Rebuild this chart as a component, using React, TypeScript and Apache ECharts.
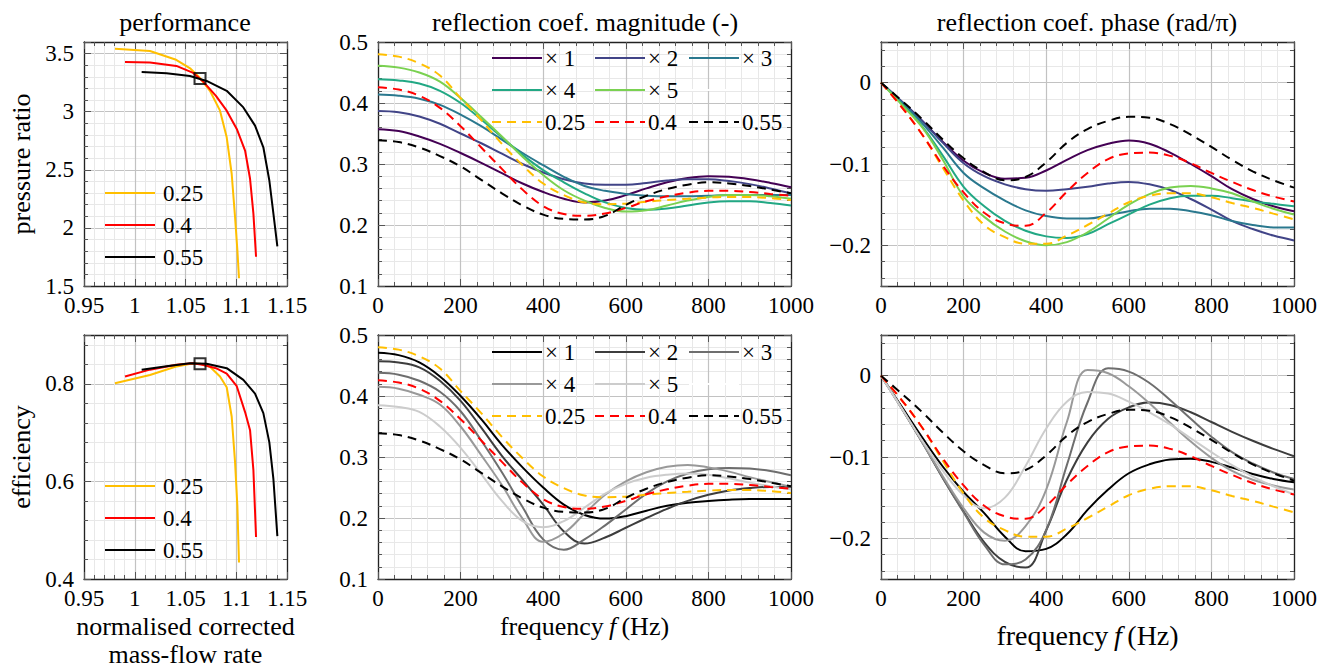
import React, { useEffect, useRef } from 'react';
import * as echarts from 'echarts';

// ---------------- data ----------------
const freq = [0, 50, 100, 150, 200, 250, 300, 350, 400, 450, 500, 550, 600, 650, 700, 750, 800, 850, 900, 950, 1000];

// compressor map (left column)
const mfr025 = [0.9805, 1.015, 1.04, 1.055, 1.0643, 1.0741, 1.084, 1.0906, 1.0955, 1.0988, 1.1011, 1.1027];
const pr025 = [3.542, 3.522, 3.45, 3.37, 3.29, 3.18, 3.009, 2.78, 2.466, 2.095, 1.81, 1.567];
const eff025 = [0.801, 0.818, 0.835, 0.841, 0.841, 0.835, 0.815, 0.793, 0.733, 0.64, 0.55, 0.434];

const mfr04 = [0.9904, 1.015, 1.041, 1.057, 1.0668, 1.08, 1.0906, 1.1005, 1.1087, 1.1136, 1.1169, 1.1195];
const pr04 = [3.428, 3.423, 3.394, 3.337, 3.265, 3.137, 3.009, 2.852, 2.666, 2.423, 2.123, 1.752];
const eff04 = [0.815, 0.829, 0.839, 0.842, 0.839, 0.832, 0.821, 0.795, 0.742, 0.705, 0.623, 0.486];

const mfr055 = [1.0068, 1.0313, 1.0544, 1.0708, 1.0906, 1.107, 1.1185, 1.1267, 1.1326, 1.1366, 1.1405];
const pr055 = [3.342, 3.331, 3.308, 3.265, 3.18, 3.037, 2.88, 2.694, 2.408, 2.123, 1.842];
const eff055 = [0.829, 0.836, 0.842, 0.841, 0.832, 0.808, 0.78, 0.74, 0.68, 0.605, 0.488];

const designMfr = [1.0643];
const designPr = [3.285];
const designEff = [0.841];

// reflection magnitude, dashed reference curves
const mag025 = [0.48, 0.476, 0.465, 0.445, 0.408, 0.372, 0.333, 0.298, 0.268, 0.249, 0.237, 0.234, 0.235, 0.238, 0.241, 0.243, 0.245, 0.246, 0.246, 0.244, 0.241];
const mag04 = [0.426, 0.422, 0.412, 0.392, 0.362, 0.327, 0.292, 0.258, 0.231, 0.218, 0.215, 0.219, 0.228, 0.239, 0.247, 0.253, 0.256, 0.256, 0.254, 0.251, 0.248];
const mag055 = [0.339, 0.336, 0.327, 0.313, 0.296, 0.274, 0.252, 0.232, 0.217, 0.21, 0.209, 0.215, 0.233, 0.248, 0.259, 0.266, 0.27, 0.268, 0.264, 0.258, 0.252];

// reflection magnitude, top row (× n)
const magTop1 = [0.357, 0.354, 0.345, 0.333, 0.318, 0.302, 0.285, 0.268, 0.254, 0.243, 0.237, 0.24, 0.249, 0.26, 0.27, 0.277, 0.28, 0.279, 0.275, 0.269, 0.262];
const magTop2 = [0.387, 0.385, 0.378, 0.366, 0.35, 0.334, 0.317, 0.3, 0.286, 0.275, 0.268, 0.266, 0.266, 0.269, 0.273, 0.275, 0.275, 0.272, 0.267, 0.26, 0.252];
const magTop3 = [0.414, 0.412, 0.407, 0.397, 0.381, 0.362, 0.34, 0.318, 0.298, 0.279, 0.264, 0.256, 0.251, 0.248, 0.247, 0.247, 0.248, 0.249, 0.249, 0.249, 0.249];
const magTop4 = [0.439, 0.437, 0.432, 0.42, 0.4, 0.373, 0.344, 0.315, 0.29, 0.27, 0.252, 0.237, 0.228, 0.225, 0.227, 0.232, 0.237, 0.239, 0.239, 0.236, 0.232];
const magTop5 = [0.461, 0.458, 0.45, 0.435, 0.408, 0.377, 0.345, 0.312, 0.282, 0.257, 0.24, 0.228, 0.222, 0.224, 0.232, 0.24, 0.246, 0.249, 0.249, 0.247, 0.243];

// reflection magnitude, bottom row (× n)
const magBot1 = [0.471, 0.467, 0.455, 0.432, 0.4, 0.362, 0.32, 0.283, 0.25, 0.222, 0.205, 0.199, 0.203, 0.212, 0.22, 0.225, 0.228, 0.23, 0.231, 0.231, 0.231];
const magBot2 = [0.457, 0.455, 0.447, 0.425, 0.392, 0.348, 0.302, 0.262, 0.222, 0.178, 0.158, 0.168, 0.184, 0.2, 0.215, 0.228, 0.238, 0.245, 0.249, 0.251, 0.251];
const magBot3 = [0.438, 0.435, 0.425, 0.407, 0.375, 0.327, 0.275, 0.218, 0.165, 0.148, 0.165, 0.188, 0.214, 0.24, 0.26, 0.273, 0.28, 0.282, 0.281, 0.277, 0.27];
const magBot4 = [0.415, 0.412, 0.402, 0.386, 0.35, 0.303, 0.254, 0.199, 0.161, 0.175, 0.207, 0.238, 0.26, 0.275, 0.284, 0.287, 0.283, 0.276, 0.267, 0.259, 0.251];
const magBot5 = [0.385, 0.382, 0.374, 0.35, 0.315, 0.272, 0.228, 0.195, 0.185, 0.195, 0.217, 0.24, 0.256, 0.266, 0.271, 0.273, 0.271, 0.265, 0.258, 0.252, 0.247];

// reflection phase, dashed reference curves
const ph025 = [0, -0.03, -0.064, -0.105, -0.145, -0.175, -0.19, -0.198, -0.198, -0.188, -0.175, -0.161, -0.147, -0.139, -0.136, -0.136, -0.141, -0.148, -0.154, -0.161, -0.168];
const ph04 = [0, -0.03, -0.064, -0.102, -0.135, -0.16, -0.173, -0.176, -0.16, -0.134, -0.111, -0.094, -0.087, -0.086, -0.09, -0.099, -0.111, -0.122, -0.132, -0.14, -0.146];
const ph055 = [0, -0.022, -0.045, -0.07, -0.093, -0.11, -0.12, -0.116, -0.098, -0.074, -0.057, -0.047, -0.042, -0.043, -0.051, -0.064, -0.079, -0.095, -0.109, -0.12, -0.129];

// reflection phase, top row (× n)
const phTop1 = [0, -0.023, -0.047, -0.073, -0.096, -0.111, -0.118, -0.117, -0.108, -0.095, -0.083, -0.075, -0.071, -0.075, -0.086, -0.1, -0.115, -0.131, -0.143, -0.152, -0.158];
const phTop2 = [0, -0.023, -0.047, -0.074, -0.099, -0.115, -0.125, -0.131, -0.133, -0.131, -0.128, -0.124, -0.122, -0.125, -0.132, -0.143, -0.156, -0.17, -0.18, -0.188, -0.194];
const phTop3 = [0, -0.024, -0.05, -0.08, -0.111, -0.13, -0.145, -0.157, -0.164, -0.167, -0.167, -0.163, -0.158, -0.155, -0.155, -0.158, -0.163, -0.17, -0.175, -0.178, -0.178];
const phTop4 = [0, -0.026, -0.054, -0.09, -0.128, -0.152, -0.17, -0.182, -0.189, -0.191, -0.186, -0.174, -0.162, -0.15, -0.142, -0.139, -0.139, -0.142, -0.146, -0.149, -0.152];
const phTop5 = [0, -0.027, -0.055, -0.095, -0.14, -0.165, -0.183, -0.195, -0.2, -0.196, -0.184, -0.167, -0.15, -0.137, -0.129, -0.127, -0.13, -0.136, -0.146, -0.155, -0.162];

// reflection phase, bottom row (× n)
const phBot1 = [0, -0.038, -0.076, -0.112, -0.143, -0.169, -0.198, -0.216, -0.213, -0.195, -0.165, -0.14, -0.12, -0.109, -0.103, -0.102, -0.106, -0.113, -0.121, -0.127, -0.131];
const phBot2 = [0, -0.04, -0.082, -0.126, -0.167, -0.205, -0.229, -0.236, -0.19, -0.128, -0.082, -0.053, -0.039, -0.033, -0.036, -0.045, -0.057, -0.069, -0.08, -0.09, -0.099];
const phBot3 = [0, -0.04, -0.082, -0.126, -0.168, -0.208, -0.232, -0.226, -0.19, -0.11, -0.033, 0.009, 0.005, -0.009, -0.03, -0.053, -0.075, -0.094, -0.108, -0.119, -0.127];
const phBot4 = [0, -0.04, -0.082, -0.124, -0.163, -0.193, -0.203, -0.185, -0.14, -0.057, 0.007, 0.003, -0.013, -0.034, -0.058, -0.081, -0.101, -0.117, -0.128, -0.135, -0.14];
const phBot5 = [0, -0.04, -0.08, -0.117, -0.147, -0.163, -0.15, -0.111, -0.065, -0.032, -0.02, -0.022, -0.032, -0.045, -0.06, -0.077, -0.094, -0.11, -0.124, -0.136, -0.146];

const refLabels = ['0.25', '0.4', '0.55'];
const multLabels = ['× 1', '× 2', '× 3', '× 4', '× 5'];
const titles = ['performance', 'reflection coef. magnitude (-)', 'reflection coef. phase (rad/π)'];

// ---------------- styling ----------------
const FONT = 'Liberation Serif';
const REF_COLORS = ['#ffbf00', '#ff0000', '#000000'];
const VIRIDIS = ['#440154', '#414487', '#2a788e', '#22a884', '#7ad151'];
const GREYS = ['#000000', '#3d3d3d', '#6e6e6e', '#999999', '#cccccc'];
const DASH = [9, 6];

const GRIDS = [
  { left: 84, top: 42, width: 203, height: 244 },
  { left: 378, top: 42, width: 413, height: 244 },
  { left: 881, top: 42, width: 413, height: 244 },
  { left: 84, top: 335, width: 203, height: 244 },
  { left: 378, top: 335, width: 413, height: 244 },
  { left: 881, top: 335, width: 413, height: 244 },
];

type Rng = { min: number; max: number; interval?: number; splitNumber?: number; hideMin?: boolean; hideMax?: boolean };
const XR: Rng[] = [
  { min: 0.95, max: 1.15, interval: 0.05 },
  { min: 0, max: 1000, interval: 200 },
  { min: 0, max: 1000, interval: 200 },
  { min: 0.95, max: 1.15, interval: 0.05 },
  { min: 0, max: 1000, interval: 200 },
  { min: 0, max: 1000, interval: 200 },
];
const YR: Rng[] = [
  { min: 1.5, max: 3.6, interval: 0.5, hideMax: true },
  { min: 0.1, max: 0.5, interval: 0.1 },
  { min: -0.25, max: 0.05, splitNumber: 3, hideMin: true, hideMax: true },
  { min: 0.4, max: 0.9, interval: 0.2, hideMax: true },
  { min: 0.1, max: 0.5, interval: 0.1 },
  { min: -0.25, max: 0.05, splitNumber: 3, hideMin: true, hideMax: true },
];

const fmt = (v: number) => String(Math.round(v * 1000) / 1000).replace('-', '\u2212');

function axis(kind: 'x' | 'y', gi: number, mirror: boolean, extra: any = {}) {
  const r = (kind === 'x' ? XR : YR)[gi];
  const a: any = {
    type: 'value',
    gridIndex: gi,
    position: kind === 'x' ? (mirror ? 'top' : 'bottom') : mirror ? 'right' : 'left',
    min: r.min,
    max: r.max,
    axisLine: { show: true, onZero: false, lineStyle: { color: '#222', width: 1.3 } },
    axisTick: { show: true, inside: true, length: 7, lineStyle: { color: '#555', width: 1 } },
    minorTick: { show: true, splitNumber: 5, length: 4, lineStyle: { color: '#555', width: 1 } },
    splitLine: { show: !mirror, lineStyle: { color: '#c2c2c2', width: 1.2 } },
    minorSplitLine: { show: !mirror, lineStyle: { color: '#e8e8e8', width: 1 } },
    axisLabel: {
      show: !mirror,
      color: '#000',
      fontFamily: FONT,
      fontSize: 23,
      margin: kind === 'x' ? 8 : 10,
      formatter: fmt,
      showMinLabel: !r.hideMin,
      showMaxLabel: !r.hideMax,
    },
    ...extra,
  };
  if (r.interval !== undefined) a.interval = r.interval;
  if (r.splitNumber !== undefined) a.splitNumber = r.splitNumber;
  return a;
}

const nameStyle = (size: number) => ({
  fontFamily: FONT,
  fontSize: size,
  color: '#000',
  lineHeight: 28,
  rich: { i: { fontFamily: FONT, fontSize: size, fontStyle: 'italic', color: '#000' } },
});

function lineSeries(gi: number, xs: number[], ys: number[], color: string, dashed: boolean, smooth: number | boolean) {
  return {
    type: 'line',
    xAxisIndex: gi * 2,
    yAxisIndex: gi * 2,
    data: xs.map((x, i) => [x, ys[i]]),
    symbol: 'none',
    showSymbol: false,
    smooth,
    silent: true,
    lineStyle: { color, width: 2, type: dashed ? DASH : 'solid' },
    z: 3,
  };
}

function buildOption() {
  const xAxis: any[] = [];
  const yAxis: any[] = [];
  const freqName = 'frequency\u2009{i|f}\u2009(Hz)';
  const xNames: any[] = [
    {},
    {},
    {},
    { name: 'normalised corrected\nmass-flow rate', nameLocation: 'middle', nameGap: 33, nameTextStyle: nameStyle(26) },
    { name: freqName, nameLocation: 'middle', nameGap: 33, nameTextStyle: nameStyle(26) },
    { name: freqName, nameLocation: 'middle', nameGap: 42, nameTextStyle: nameStyle(28) },
  ];
  const yNames: any[] = [
    { name: 'pressure ratio', nameLocation: 'middle', nameGap: 49, nameTextStyle: nameStyle(26) },
    {},
    {},
    { name: 'efficiency', nameLocation: 'middle', nameGap: 49, nameTextStyle: nameStyle(26) },
    {},
    {},
  ];
  for (let gi = 0; gi < 6; gi++) {
    xAxis.push(axis('x', gi, false, xNames[gi]));
    xAxis.push(axis('x', gi, true));
    yAxis.push(axis('y', gi, false, yNames[gi]));
    yAxis.push(axis('y', gi, true));
  }

  const series: any[] = [];
  const mfrs = [mfr025, mfr04, mfr055];
  const prs = [pr025, pr04, pr055];
  const effs = [eff025, eff04, eff055];
  for (let k = 0; k < 3; k++) {
    series.push(lineSeries(0, mfrs[k], prs[k], REF_COLORS[k], false, false));
    series.push(lineSeries(3, mfrs[k], effs[k], REF_COLORS[k], false, false));
  }
  const marker = (gi: number, ys: number[]) => ({
    type: 'scatter',
    xAxisIndex: gi * 2,
    yAxisIndex: gi * 2,
    data: designMfr.map((m, i) => [m, ys[i]]),
    symbol: 'rect',
    symbolSize: 11,
    silent: true,
    itemStyle: { color: 'rgba(255,255,255,0)', borderColor: '#000', borderWidth: 2 },
    z: 6,
  });
  series.push(marker(0, designPr));
  series.push(marker(3, designEff));

  const SM = 0.4;
  const magTop = [magTop1, magTop2, magTop3, magTop4, magTop5];
  const magBot = [magBot1, magBot2, magBot3, magBot4, magBot5];
  const phTop = [phTop1, phTop2, phTop3, phTop4, phTop5];
  const phBot = [phBot1, phBot2, phBot3, phBot4, phBot5];
  const magRef = [mag025, mag04, mag055];
  const phRef = [ph025, ph04, ph055];
  for (let n = 0; n < 5; n++) {
    series.push(lineSeries(1, freq, magTop[n], VIRIDIS[n], false, SM));
    series.push(lineSeries(4, freq, magBot[n], GREYS[n], false, SM));
    series.push(lineSeries(2, freq, phTop[n], VIRIDIS[n], false, SM));
    series.push(lineSeries(5, freq, phBot[n], GREYS[n], false, SM));
  }
  for (let k = 0; k < 3; k++) {
    series.push(lineSeries(1, freq, magRef[k], REF_COLORS[k], true, SM));
    series.push(lineSeries(4, freq, magRef[k], REF_COLORS[k], true, SM));
    series.push(lineSeries(2, freq, phRef[k], REF_COLORS[k], true, SM));
    series.push(lineSeries(5, freq, phRef[k], REF_COLORS[k], true, SM));
  }

  const graphic: any[] = [];
  const text = (x: number, y: number, s: string, size: number, align = 'left') => ({
    type: 'text',
    x,
    y,
    z: 100,
    silent: true,
    style: { text: s, fontFamily: FONT, fontSize: size, fill: '#000', align, verticalAlign: 'middle' },
  });
  const seg = (x1: number, x2: number, y: number, color: string, dashed: boolean) => ({
    type: 'line',
    z: 100,
    silent: true,
    shape: { x1, y1: y, x2, y2: y },
    style: { stroke: color, lineWidth: 2, lineDash: dashed ? DASH : null },
  });
  const titleX = [185, 585, 1087];
  titles.forEach((t, i) => graphic.push(text(titleX[i], 22, t, 26, 'center')));

  [193, 486].forEach((y0) => {
    refLabels.forEach((lab, k) => {
      const y = y0 + k * 32;
      graphic.push(seg(105, 155, y, REF_COLORS[k], false));
      graphic.push(text(163, y, lab, 23));
    });
  });
  const colLine = [492, 595, 689];
  const colText = [545, 648, 742];
  const mids: [number, string[]][] = [
    [58, VIRIDIS],
    [352, GREYS],
  ];
  mids.forEach(([y0, cols]) => {
    multLabels.forEach((lab, n) => {
      const r = Math.floor(n / 3);
      const c = n % 3;
      const y = y0 + r * 32;
      graphic.push(seg(colLine[c], colLine[c] + 50, y, cols[n], false));
      graphic.push(text(colText[c], y, lab, 23));
    });
    graphic.push(seg(colLine[2], colLine[2] + 50, y0 + 32, '#ffffff', false));
    refLabels.forEach((lab, k) => {
      const y = y0 + 64;
      graphic.push(seg(colLine[k], colLine[k] + 50, y, REF_COLORS[k], true));
      graphic.push(text(colText[k], y, lab, 23));
    });
  });

  return {
    animation: false,
    backgroundColor: '#ffffff',
    textStyle: { fontFamily: FONT },
    grid: GRIDS.map((g) => ({ ...g, containLabel: false })),
    xAxis,
    yAxis,
    series,
    graphic,
  };
}

export default function App() {
  const ref = useRef<HTMLDivElement>(null);
  useEffect(() => {
    if (!ref.current) return;
    const chart = echarts.init(ref.current, null, { renderer: 'svg' });
    chart.setOption(buildOption() as any);
    return () => chart.dispose();
  }, []);
  return (
    <div
      ref={ref}
      style={{ position: 'absolute', left: 0, top: 0, width: 1332, height: 669, background: '#fff' }}
    />
  );
}
